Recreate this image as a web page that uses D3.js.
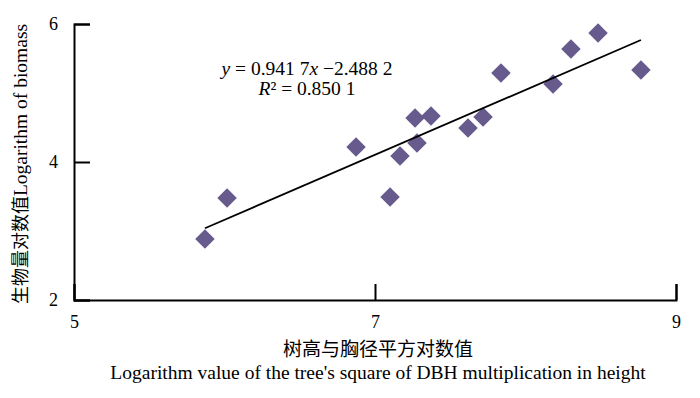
<!DOCTYPE html>
<html>
<head>
<meta charset="utf-8">
<script src="https://cdn.jsdelivr.net/npm/d3@7"></script>
<style>
  html, body { margin: 0; padding: 0; background: #fff; }
  .axis path, .axis line { stroke: #000; stroke-width: 2; }
</style>
</head>
<body>
<div class="chart"></div>
<script>
// data
const logHD2 = [5.870, 6.017, 6.874, 7.100, 7.166, 7.266, 7.279, 7.372, 7.618, 7.718, 7.837, 8.183, 8.302, 8.482, 8.767];
const logBiomass = [2.884, 3.478, 4.217, 3.493, 4.087, 4.638, 4.275, 4.667, 4.493, 4.652, 5.290, 5.130, 5.638, 5.870, 5.333];
const xTicks = [5, 7, 9];
const yTicks = [2, 4, 6];
const slope = 0.9417;
const intercept = -2.4882;

const serif = '"Liberation Serif", "Times New Roman", serif';
const cjk = '"Noto Sans CJK SC", sans-serif';

const margin = { top: 24, right: 24, bottom: 98, left: 74 };
const svgWidth = 700;
const svgHeight = 398;
const width = svgWidth - margin.left - margin.right;
const height = svgHeight - margin.top - margin.bottom;

const root = d3.select('.chart').append('svg')
  .attr('width', svgWidth)
  .attr('height', svgHeight)
  .style('display', 'block');
const svg = root.append('g')
  .attr('transform', 'translate(' + margin.left + ',' + margin.top + ')');

const x = d3.scaleLinear().domain([5, 9]).range([0, width]);
const y = d3.scaleLinear().domain([2, 6]).range([height, 0]);

const coordinates = logHD2.map((v, i) => [v, logBiomass[i]]);

// axes, ticks point inward
const gx = svg.append('g').attr('class', 'x axis')
  .attr('transform', 'translate(0,' + height + ')')
  .call(d3.axisBottom(x).tickValues(xTicks).tickSize(-16).tickPadding(15).tickFormat(d3.format('d')));
const gy = svg.append('g').attr('class', 'y axis')
  .call(d3.axisLeft(y).tickValues(yTicks).tickSize(-16).tickPadding(16).tickFormat(d3.format('d')));
[gx, gy].forEach((g) => {
  g.attr('font-family', serif).attr('font-size', 18);
  g.selectAll('text').attr('fill', '#000');
});

// points
svg.selectAll('.point')
  .data(coordinates)
  .enter()
  .append('path')
  .attr('class', 'point')
  .attr('d', d3.symbol().type(d3.symbolSquare).size(190))
  .attr('fill', '#665b8c')
  .attr('transform', (d) => 'translate(' + x(d[0]) + ',' + y(d[1]) + ') rotate(45)');

// fitted line across the data range
const xExtent = d3.extent(logHD2);
const fitLine = d3.line().x((d) => x(d)).y((d) => y(slope * d + intercept));
svg.append('path')
  .datum(xExtent)
  .attr('d', fitLine)
  .attr('fill', 'none')
  .attr('stroke', '#000')
  .attr('stroke-width', 1.8);

// equation
const eq = svg.append('text')
  .attr('x', 233)
  .attr('y', 50.5)
  .attr('text-anchor', 'middle')
  .style('font-family', serif)
  .style('font-size', '19.5px');
eq.append('tspan').style('font-style', 'italic').text('y');
eq.append('tspan').text(' = 0.941 7');
eq.append('tspan').style('font-style', 'italic').text('x');
eq.append('tspan').text(' \u22122.488 2');

const r2 = svg.append('text')
  .attr('x', 233)
  .attr('y', 71)
  .attr('text-anchor', 'middle')
  .style('font-family', serif)
  .style('font-size', '19.5px');
r2.append('tspan').style('font-style', 'italic').text('R');
r2.append('tspan').text('\u00b2 = 0.850 1');

// axis titles
svg.append('text')
  .attr('x', width / 2 + 3)
  .attr('y', height + 56)
  .attr('text-anchor', 'middle')
  .style('font-family', cjk)
  .style('font-size', '19px')
  .text('树高与胸径平方对数值');
svg.append('text')
  .attr('x', width / 2 + 3)
  .attr('y', height + 79)
  .attr('text-anchor', 'middle')
  .style('font-family', serif)
  .style('font-size', '19.5px')
  .text("Logarithm value of the tree's square of DBH multiplication in height");

const yTitle = svg.append('text')
  .attr('transform', 'rotate(-90)')
  .attr('x', -(height / 2) - 2)
  .attr('y', -47)
  .attr('text-anchor', 'middle');
yTitle.append('tspan')
  .style('font-family', cjk)
  .style('font-size', '18px')
  .text('生物量对数值');
yTitle.append('tspan')
  .style('font-family', serif)
  .style('font-size', '19.5px')
  .text('Logarithm of biomass');
</script>
</body>
</html>
